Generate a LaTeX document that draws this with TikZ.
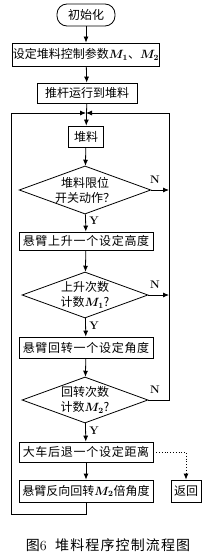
\documentclass[tikz,border=0pt]{standalone}
\usepackage{fontspec}
\newfontfamily\cjk{Noto Sans CJK SC}
\newfontfamily\cjkwide[LetterSpace=6]{Noto Sans CJK SC}
\newfontfamily\cjkcap[LetterSpace=8]{Noto Sans CJK SC}
\usetikzlibrary{arrows.meta,shapes.geometric}
\tikzset{
  ln/.style={line width=0.8pt},
  arr/.style={ln,-{Latex[length=6pt,width=5pt]}},
  procbox/.style={draw,ln,rectangle,inner sep=0pt,font=\cjk\fontsize{12}{15}\selectfont},
  widebox/.style={procbox,font=\cjkwide\fontsize{12}{15}\selectfont},
  decbox/.style={draw,ln,diamond,inner sep=0pt,aspect=2.74,align=center,font=\cjk\fontsize{12}{15}\selectfont},
  lbl/.style={font=\fontsize{11}{13}\selectfont\bfseries},
}
\begin{document}
\begin{tikzpicture}[x=1pt,y=-1pt]
\useasboundingbox (0,0) rectangle (213,559);
\node[procbox,rounded corners=10pt,minimum width=58pt,minimum height=22pt] (init) at (86,15) {初始化};
\node[procbox,minimum width=146pt,minimum height=23pt] (b1) at (86,54.5) {设定堆料控制参数{\boldmath$M_1$}、{\boldmath$M_2$}};
\node[procbox,minimum width=100pt,minimum height=20pt] (b2) at (87,93) {推杆运行到堆料};
\coordinate (m) at (86,113);
\node[procbox,minimum width=35pt,minimum height=21pt] (b3) at (86,136.5) {堆料};
\node[decbox,minimum width=126pt,minimum height=46pt] (d1) at (85,190) {堆料限位\\开关动作？};
\node[widebox,minimum width=134pt,minimum height=18pt] (b4) at (86,241) {悬臂上升一个设定高度};
\node[decbox,minimum width=126pt,minimum height=46pt] (d2) at (85,295) {上升次数\\计数{\boldmath$M_1$}?};
\node[widebox,minimum width=134pt,minimum height=21pt] (b5) at (86,347.5) {悬臂回转一个设定角度};
\node[decbox,minimum width=126pt,minimum height=46pt] (d3) at (85,400) {回转次数\\计数{\boldmath$M_2$}?};
\node[widebox,minimum width=134pt,minimum height=20pt] (b6) at (86,452) {大车后退一个设定距离};
\node[procbox,minimum width=134pt,minimum height=22pt] (b7) at (86,491) {悬臂反向回转{\boldmath$M_2$}倍角度};
\node[procbox,minimum width=30pt,minimum height=22pt] (ret) at (186,491) {返回};
\coordinate (rl) at (169,113);
\coordinate (ll) at (11,113);
\coordinate (bl) at (11,514);
\coordinate (rd) at (169,400);

\draw[arr] (init) -- (b1);
\draw[arr] (b1) -- (b2);
\draw[arr] (b2) -- (b3);
\draw[arr] (b3) -- (d1);
\draw[arr] (d1) -- node[lbl,right,pos=0.4] {Y} (b4);
\draw[arr] (b4) -- (d2);
\draw[arr] (d2) -- node[lbl,right,pos=0.4] {Y} (b5);
\draw[arr] (b5) -- (d3);
\draw[arr] (d3) -- node[lbl,right,pos=0.4] {Y} (b6);
\draw[arr] (b6) -- (b7);
\draw[arr] (d1.east) -- (d1.east -| rl);
\draw[arr] (d2.east) -- (d2.east -| rl);
\node[lbl] at (155,180) {N};
\node[lbl] at (155,285) {N};
\node[lbl] at (155,390) {N};
\draw[arr] (d3.east) -- (rd) -- (rl) -- (m);
\draw[arr] (b7.south) |- (bl) -- (ll) -- (m);
\draw[ln,dotted,-{Latex[length=6pt,width=5pt]}] (b6.east) -| (ret.north);
\node[font=\cjkcap\fontsize{14}{16}\selectfont] (cap) at (108,545) {图{\rmfamily 6}\ \ 堆料程序控制流程图};
\end{tikzpicture}
\end{document}
